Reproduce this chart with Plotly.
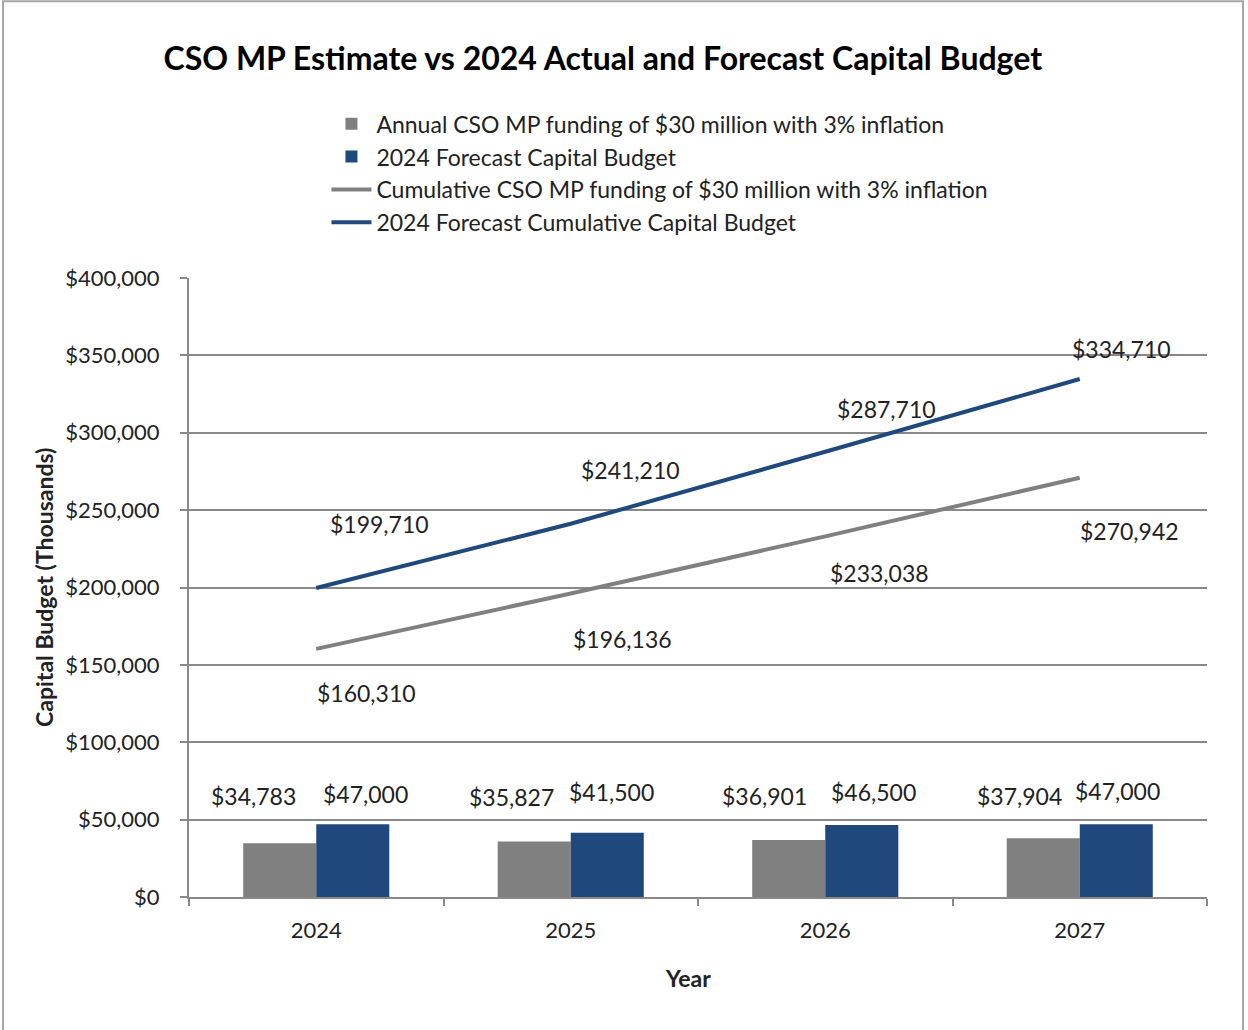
import plotly.graph_objects as go

years = ["2024", "2025", "2026", "2027"]
annual_cso = [34783, 35827, 36901, 37904]
forecast_budget = [47000, 41500, 46500, 47000]
cum_cso = [160310, 196136, 233038, 270942]
cum_forecast = [199710, 241210, 287710, 334710]

names = [
    "Annual CSO MP funding of $30 million with 3% inflation",
    "2024 Forecast Capital Budget",
    "Cumulative CSO MP funding of $30 million with 3% inflation",
    "2024 Forecast Cumulative Capital Budget",
]

GRAY = "#808080"
BLUE = "#1F497D"
AXIS = "#898989"
TXT = "#222222"
FONT = "Lato"

# label pixel offsets (style only)
off_annual = [(-63, 47), (-59, 45), (-61, 44), (-60, 42)]
off_fore = [(49, 30), (41, 41), (48, 33), (38, 33)]
off_cumcso = [(50, -44), (52, -46), (54, -37), (50, -53)]
off_cumfore = [(63, 64), (60, 54), (61, 43), (42, 30)]

fig = go.Figure()
fig.add_trace(go.Bar(x=years, y=annual_cso, name=names[0], marker=dict(color=GRAY, line=dict(width=0))))
fig.add_trace(go.Bar(x=years, y=forecast_budget, name=names[1], marker=dict(color=BLUE, line=dict(width=0))))
fig.add_trace(go.Scatter(x=years, y=cum_cso, name=names[2], mode="lines", line=dict(color=GRAY, width=4)))
fig.add_trace(go.Scatter(x=years, y=cum_forecast, name=names[3], mode="lines", line=dict(color=BLUE, width=4)))

annotations = []
def fmt(v):
    return "${:,}".format(v)

for vals, offs in [(annual_cso, off_annual), (forecast_budget, off_fore), (cum_cso, off_cumcso), (cum_forecast, off_cumfore)]:
    for i, (v, (dx, dy)) in enumerate(zip(vals, offs)):
        annotations.append(dict(x=i, y=v, xref="x", yref="y", text=fmt(v), showarrow=False,
                                xshift=dx, yshift=dy, font=dict(family=FONT, size=23, color=TXT)))

annotations.append(dict(x=-0.143, y=0.5, xref="paper", yref="paper", text="<b>Capital Budget (Thousands)</b>",
                        textangle=-90, showarrow=False, xanchor="center", yanchor="middle",
                        font=dict(family=FONT, size=23, color=TXT)))
annotations.append(dict(x=0.49, y=-0.131, xref="paper", yref="paper", text="<b>Year</b>",
                        showarrow=False, xanchor="center", yanchor="middle",
                        font=dict(family=FONT, size=23, color=TXT)))

fig.update_layout(
    width=1248, height=1030,
    margin=dict(l=189, r=41, t=278, b=133),
    paper_bgcolor="white", plot_bgcolor="white",
    title=dict(text="<b>CSO MP Estimate vs 2024 Actual and Forecast Capital Budget</b>",
               x=0.483, xanchor="center", y=0.943, yanchor="middle",
               font=dict(family=FONT, size=32, color="#000000")),
    barmode="group", bargap=0.426, bargroupgap=0,
    showlegend=True,
    legend=dict(x=0.135, xanchor="left", y=1.284, yanchor="top", traceorder="normal",
                font=dict(family=FONT, size=23, color=TXT), bgcolor="rgba(0,0,0,0)",
                itemwidth=40, tracegroupgap=0),
    font=dict(family=FONT, size=22, color=TXT),
    annotations=annotations,
    shapes=[dict(type="rect", xref="paper", yref="paper", x0=-0.1827, x1=1.0354, y0=-0.26, y1=1.447,
                 line=dict(color="#a6a6a6", width=2), fillcolor="rgba(0,0,0,0)", layer="below")],
)
fig.update_xaxes(type="category", showgrid=False, showline=True, linecolor=AXIS, linewidth=2,
                 ticks="outside", tickson="boundaries", ticklen=7, tickcolor=AXIS, tickwidth=2,
                 tickfont=dict(family=FONT, size=22, color=TXT), ticklabelstandoff=13)
fig.update_yaxes(range=[0, 400000], dtick=50000, tickprefix="$", tickformat=",d",
                 showgrid=True, gridcolor=AXIS, gridwidth=2, showline=True, linecolor=AXIS, linewidth=2,
                 ticks="outside", ticklen=7, tickcolor=AXIS, tickwidth=2, zeroline=False,
                 tickfont=dict(family=FONT, size=22, color=TXT), ticklabelstandoff=16)

fig.write_html("out.html", config={"displayModeBar": False},
               post_script="document.body.style.margin='0';document.body.style.overflow='hidden';")
